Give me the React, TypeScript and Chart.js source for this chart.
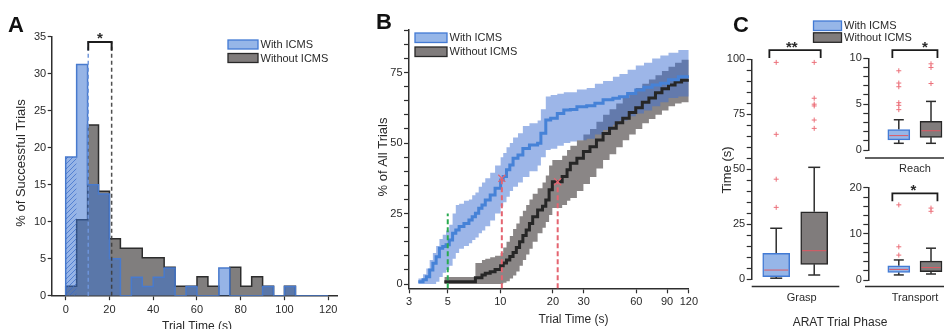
import React, { useEffect, useRef } from 'react';
import { Chart, registerables } from 'chart.js';

Chart.register(...registerables);

const FONT = '"Liberation Sans", Arial, Helvetica, sans-serif';
const AXIS = '#2e2e2e';
const TEXT = '#2a2a2a';
const RED = 'rgb(236,112,122)';
const BLUE_FILL = 'rgb(150,182,232)';
const BLUE_EDGE = 'rgb(66,122,212)';
const GRAY_FILL = 'rgb(128,124,124)';
const GRAY_EDGE = 'rgb(40,40,40)';

const legendLabels = ['With ICMS', 'Without ICMS'];

// ---------- Panel A : histogram ----------
const binStarts = [0, 5, 10, 15, 20, 25, 30, 35, 40, 45, 50, 55, 60, 65, 70, 75, 80, 85, 90, 95, 100, 105, 110, 115];
const withICMSHist = [18.75, 31.25, 15, 13.75, 5, 0, 2.5, 1.25, 2.5, 3.75, 0, 1.25, 0, 0, 3.75, 0, 0, 0, 1.25, 0, 1.25, 0, 0, 0];
const withoutICMSHist = [1.28, 10.26, 23.08, 14.1, 7.69, 6.41, 6.41, 5.13, 5.13, 3.85, 1.28, 1.28, 2.56, 1.28, 0, 3.85, 1.28, 2.56, 1.28, 0, 1.28, 0, 0, 0];
const histXTicks = [0, 20, 40, 60, 80, 100, 120];
const histYTicks = [0, 5, 10, 15, 20, 25, 30, 35];
const histMedians = [10.3, 21];
const histSigLevel = 34.3;

// ---------- Panel B : cumulative curves ----------
const blueTimes = [3.39, 3.61, 3.77, 3.94, 4.11, 4.29, 4.48, 4.68, 4.89, 5.1, 5.33, 5.56, 5.81, 6.19, 6.61, 6.9, 7.2, 7.52, 7.85, 8.2, 8.75, 9.33, 10.04, 10.39, 10.85, 11.33, 11.83, 12.62, 13.46, 14.68, 16.35, 17.07, 18.21, 19.42, 21.19, 23.09, 25.17, 27.44, 31.23, 34.78, 38.75, 44.1, 48.07, 53.56, 59.64, 66.44, 74, 82.4, 91.8, 104.5, 120];
const blueMid = [0.8, 1.5, 2.6, 5, 7.4, 9.7, 12.7, 13.3, 13.9, 15.6, 18, 19.2, 20.4, 21.5, 22.7, 23.9, 25.1, 26.9, 28, 29.8, 31.6, 34, 36.9, 38.1, 40.5, 42.2, 44.6, 45.8, 48.1, 49.3, 49.9, 53.5, 58.2, 58.8, 60.5, 61.7, 61.9, 62.9, 63.2, 64.1, 65.3, 65.9, 66.4, 67.6, 68.8, 69.8, 70.6, 71.2, 72.4, 73.5, 74];
const blueUpper = [2, 3.5, 5.5, 8.5, 11, 13.5, 16, 17.5, 19, 21, 25, 28, 28.5, 29.5, 30, 31.5, 32.5, 34.5, 36, 37.5, 39.5, 42, 45, 46.5, 48.5, 50, 52, 53.5, 56, 57, 58, 62, 66.5, 67, 67.5, 68, 68, 69, 69.5, 71, 72, 73.5, 74.5, 76, 77.5, 78.5, 80, 81, 82, 83, 83.5];
const blueLower = [0, 0, 0, 0, 0, 0.8, 2.5, 4, 5, 6.5, 9, 11, 12.5, 13.5, 14.5, 15.6, 16.5, 18, 19, 20.5, 22.5, 25, 27.5, 29, 31, 33, 34.5, 36, 38, 40, 42, 45, 47.5, 48, 49, 50, 50.5, 51, 51.5, 53, 54.6, 56.5, 58, 59.5, 60.5, 61.5, 63, 64.5, 66, 66.5, 67];

const grayTimes = [4.78, 7.2, 7.85, 8.2, 8.75, 9.33, 10.04, 10.39, 10.85, 11.33, 11.83, 12.35, 12.89, 13.46, 14.06, 14.68, 15.32, 16.35, 17.44, 18.21, 19.02, 19.85, 22.6, 24.1, 25.17, 27.44, 29.9, 32.6, 35.5, 38.75, 42.2, 46.1, 50.2, 54.7, 59.6, 65, 70.9, 77.3, 84.2, 91.8, 100.1, 109.1, 120];
const grayMid = [0.8, 2.2, 3.2, 3.8, 4.4, 5.2, 6.5, 7.5, 8.5, 9.8, 11.2, 13, 15, 17.2, 19.2, 21.5, 23.9, 26.3, 27.6, 29.8, 33.4, 36.3, 38.1, 40.5, 42.8, 44.6, 47, 48.7, 51.1, 53.4, 55.2, 57.2, 58.8, 60.8, 62.5, 64.5, 66, 67.8, 69.2, 70.6, 71.6, 72.3, 72.6];
const grayUpper = [2.5, 7.5, 8.5, 9, 9.5, 10, 11, 13, 15, 17, 19.5, 21.5, 24, 26, 28, 30, 32, 34, 36, 38.5, 42, 44, 45.5, 47.5, 49, 51, 53, 55, 57.5, 60, 62, 64, 66, 67.5, 69.5, 71, 72.5, 74, 75.5, 77, 78.5, 79.5, 80.5];
const grayLower = [0, 0, 0, 0, 0, 0, 0, 0.5, 1, 2, 3, 4.5, 6.5, 8.5, 10.5, 12.5, 15, 18, 20, 22, 24.5, 27, 28, 29.5, 30.5, 33, 35.5, 38, 41, 44, 46, 48.5, 51, 53, 55, 57, 58.5, 60, 61.5, 63, 64, 64.5, 65];

const cumXTicks = [3, 5, 10, 20, 30, 60, 90, 120];
const cumYTicks = [0, 5, 10, 15, 20, 25, 30, 35, 40, 45, 50, 55, 60, 65, 70, 75, 80, 85, 90];
const greenLineX = [5];
const greenLineTop = [25];
const redLineX = [10.2, 21.3];
const redLineTop = [37.5, 36.3];

// ---------- Panel C : box plots [min, q1, median, q3, max] ----------
const boxPositions = [1, 2];
const graspStats = [[0.5, 1.2, 4.2, 11.8, 23.2], [1.95, 6.8, 13, 30.7, 50.9]];
const graspOutliers = [[32.7, 45.5, 65.9, 98.6], [68.6, 72.4, 78.8, 79.6, 82.3, 98.6]];
const reachStats = [[0.73, 1.1, 1.57, 2.23, 3.3], [0.73, 1.38, 2.1, 3.14, 5.3]];
const reachOutliers = [[4.4, 4.87, 5.16, 6.9, 7.3, 8.64], [7.25, 9.0, 9.4]];
const transportStats = [[1.1, 1.67, 2.3, 3.1, 4.35], [1.3, 1.8, 2.7, 4.1, 6.9]];
const transportOutliers = [[5.4, 7.2, 16.3], [14.9, 15.6]];
const graspYTicks = [0, 5, 10, 15, 20, 25, 30, 35, 40, 45, 50, 55, 60, 65, 70, 75, 80, 85, 90, 95, 100];
const reachYTicks = [0, 1, 2, 3, 4, 5, 6, 7, 8, 9, 10];
const transportYTicks = [0, 2, 4, 6, 8, 10, 12, 14, 16, 18, 20];
const graspSig = { x1: 0.82, x2: 2.17, level: 104.2, starX: 1.41, label: '**' };
const reachSig = { x1: 0.8, x2: 2.2, level: 10.9, starX: 1.81, label: '*' };
const transportSig = { x1: 0.8, x2: 2.2, level: 18.8, starX: 1.45, label: '*' };

// ---------- helpers ----------
function drawText(ctx: CanvasRenderingContext2D, s: string, x: number, y: number, size: number, o: any = {}) {
  ctx.save();
  ctx.font = `${o.bold ? 'bold ' : ''}${size}px ${FONT}`;
  ctx.fillStyle = o.color || TEXT;
  ctx.textAlign = o.align || 'center';
  ctx.textBaseline = o.baseline || 'middle';
  ctx.translate(x, y);
  if (o.rot) ctx.rotate(o.rot);
  ctx.fillText(s, 0, 0);
  ctx.restore();
}

function seg(ctx: CanvasRenderingContext2D, x1: number, y1: number, x2: number, y2: number) {
  ctx.beginPath();
  ctx.moveTo(x1, y1);
  ctx.lineTo(x2, y2);
  ctx.stroke();
}

function drawLegend(ctx: CanvasRenderingContext2D, x: number, y: number, w: number, h: number, gap: number) {
  const fills = [BLUE_FILL, GRAY_FILL];
  const edges = [BLUE_EDGE, GRAY_EDGE];
  legendLabels.forEach((lab, i) => {
    const yy = y + i * gap;
    ctx.save();
    ctx.fillStyle = fills[i];
    ctx.fillRect(x, yy, w, h);
    ctx.strokeStyle = edges[i];
    ctx.lineWidth = 1.3;
    ctx.strokeRect(x, yy, w, h);
    ctx.restore();
    drawText(ctx, lab, x + w + 2.5, yy + h / 2 + 0.5, 11, { align: 'left' });
  });
}

function histPts(starts: number[], vals: number[]) {
  const w = starts[1] - starts[0];
  return [{ x: starts[0], y: 0 }, ...starts.map((s, i) => ({ x: s, y: vals[i] })), { x: starts[starts.length - 1] + w, y: 0 }];
}
const pts = (xs: number[], ys: number[]) => xs.map((x, i) => ({ x, y: ys[i] }));

function tickAxis(ticks: number[], size: number, horizontal: boolean, label: (v: number) => string, tickLen: number, pad: number) {
  return {
    z: 1,
    afterBuildTicks: (s: any) => { s.ticks = ticks.map((v) => ({ value: v })); },
    afterFit: (s: any) => { if (horizontal) s.height = size; else s.width = size; },
    grid: { drawOnChartArea: false, drawTicks: true, tickLength: tickLen, tickColor: AXIS, tickWidth: 1.2, color: AXIS },
    border: { display: true, color: AXIS, width: 1.5 },
    ticks: { autoSkip: false, maxRotation: 0, padding: pad, color: TEXT, font: { family: FONT, size: 11 }, callback: (v: any) => label(Number(v)) },
  };
}

const baseOptions = (padding: any) => ({
  responsive: false,
  animation: false,
  events: [],
  layout: { autoPadding: false, padding },
  plugins: { legend: { display: false }, tooltip: { enabled: false }, title: { display: false } },
});

function makeHatch() {
  const c = document.createElement('canvas');
  c.width = 5; c.height = 5;
  const g = c.getContext('2d')!;
  g.strokeStyle = 'rgba(55,105,200,0.7)';
  g.lineWidth = 1;
  g.beginPath();
  g.moveTo(0, 5); g.lineTo(5, 0);
  g.moveTo(-2.5, 2.5); g.lineTo(2.5, -2.5);
  g.moveTo(2.5, 7.5); g.lineTo(7.5, 2.5);
  g.stroke();
  return g.createPattern(c, 'repeat');
}

// ---------- Panel A ----------
function buildA(): any {
  const ox = 0, oy = 0;
  const plugin = {
    id: 'panelA',
    afterDatasetsDraw(chart: any) {
      const { ctx } = chart;
      const x = chart.scales.x, y = chart.scales.y;
      const yb = y.getPixelForValue(0), yt = y.getPixelForValue(histSigLevel);
      const xm1 = x.getPixelForValue(histMedians[0]), xm2 = x.getPixelForValue(histMedians[1]);
      ctx.save();
      ctx.setLineDash([4, 3]);
      ctx.lineWidth = 1.5;
      ctx.strokeStyle = 'rgba(110,150,220,0.95)';
      seg(ctx, xm1, yb, xm1, yt);
      ctx.strokeStyle = 'rgba(60,60,60,0.9)';
      seg(ctx, xm2, yb, xm2, yt);
      ctx.setLineDash([]);
      ctx.strokeStyle = '#1c1c1c';
      ctx.lineWidth = 2;
      ctx.beginPath();
      ctx.moveTo(xm1, yt + 8.5); ctx.lineTo(xm1, yt); ctx.lineTo(xm2, yt); ctx.lineTo(xm2, yt + 8.5);
      ctx.stroke();
      ctx.restore();
      drawText(ctx, '*', (xm1 + xm2) / 2, yt + 1.5, 15, { bold: true, baseline: 'alphabetic' });
    },
    afterDraw(chart: any) {
      const { ctx } = chart;
      drawText(ctx, 'A', 8 - ox, 32 - oy, 22, { bold: true, align: 'left', baseline: 'alphabetic', color: '#111' });
      drawLegend(ctx, 228 - ox, 40 - oy, 30, 9, 13.5);
      drawText(ctx, '% of Successful Trials', 21 - ox, 163 - oy, 13, { rot: -Math.PI / 2 });
      drawText(ctx, 'Trial Time (s)', 197 - ox, 330 - oy, 12, { baseline: 'alphabetic' });
    },
  };
  const hatch = makeHatch();
  return {
    type: 'line',
    data: {
      datasets: [
        { data: [{ x: binStarts[0], y: 0 }, { x: binStarts[0], y: withICMSHist[0] }, { x: binStarts[1], y: 0 }], stepped: true, fill: 'origin', backgroundColor: hatch, borderColor: 'rgba(0,0,0,0)', pointRadius: 0, order: 1 },
        { data: histPts(binStarts, withICMSHist), stepped: true, fill: 'origin', backgroundColor: 'rgba(57,113,208,0.53)', borderColor: 'rgb(72,122,205)', borderWidth: 1.5, pointRadius: 0, order: 2 },
        { data: histPts(binStarts, withoutICMSHist), stepped: true, fill: 'origin', backgroundColor: 'rgb(128,126,126)', borderColor: 'rgb(45,45,45)', borderWidth: 1.5, pointRadius: 0, order: 3 },
      ],
    },
    options: {
      ...baseOptions({ left: 0, right: 8, top: 36.7, bottom: 0 }),
      scales: {
        x: { type: 'linear', min: -6.4, max: 124, ...tickAxis(histXTicks, 33.3, true, (v) => String(v), 4.5, 3) },
        y: { type: 'linear', min: 0, max: 35, ...tickAxis(histYTicks, 51.7, false, (v) => String(v), 4, 1.5) },
      },
    },
    plugins: [plugin],
  };
}

// ---------- Panel B ----------
function buildB(): any {
  const ox = 345, oy = 0;
  const plugin = {
    id: 'panelB',
    afterDatasetsDraw(chart: any) {
      const { ctx } = chart;
      const x = chart.scales.x, y = chart.scales.y;
      const yb = chart.chartArea.bottom;
      ctx.save();
      ctx.setLineDash([5, 3]);
      ctx.lineWidth = 2;
      ctx.strokeStyle = 'rgb(40,170,80)';
      greenLineX.forEach((v, i) => seg(ctx, x.getPixelForValue(v), yb, x.getPixelForValue(v), y.getPixelForValue(greenLineTop[i])));
      ctx.strokeStyle = 'rgb(228,100,112)';
      redLineX.forEach((v, i) => seg(ctx, x.getPixelForValue(v), yb, x.getPixelForValue(v), y.getPixelForValue(redLineTop[i])));
      ctx.restore();
    },
    afterDraw(chart: any) {
      const { ctx } = chart;
      drawText(ctx, 'B', 376 - ox, 29 - oy, 22, { bold: true, align: 'left', baseline: 'alphabetic', color: '#111' });
      drawLegend(ctx, 415 - ox, 33 - oy, 32, 9.5, 14);
      drawText(ctx, '% of All Trials', 383.5 - ox, 157 - oy, 13, { rot: -Math.PI / 2 });
      drawText(ctx, 'Trial Time (s)', 573.5 - ox, 320 - oy, 12);
    },
  };
  const clear = 'rgba(0,0,0,0)';
  return {
    type: 'line',
    data: {
      datasets: [
        { data: pts(blueTimes, blueUpper), stepped: true, fill: '+1', backgroundColor: 'rgba(60,110,210,0.5)', borderColor: clear, pointRadius: 0, order: 5 },
        { data: pts(blueTimes, blueLower), stepped: true, fill: false, borderColor: clear, pointRadius: 0, order: 6 },
        { data: pts(grayTimes, grayUpper), stepped: true, fill: '+1', backgroundColor: 'rgb(138,134,134)', borderColor: clear, pointRadius: 0, order: 7 },
        { data: pts(grayTimes, grayLower), stepped: true, fill: false, borderColor: clear, pointRadius: 0, order: 8 },
        { data: pts(blueTimes, blueMid), stepped: true, fill: false, borderColor: 'rgb(70,130,215)', borderWidth: 3, pointRadius: 0, order: 1 },
        { data: pts(grayTimes, grayMid), stepped: true, fill: false, borderColor: 'rgb(38,38,38)', borderWidth: 3, pointRadius: 0, order: 2 },
        { data: pts(redLineX, redLineTop), showLine: false, pointStyle: 'crossRot', pointRadius: 5, pointBorderColor: 'rgb(228,100,112)', pointBorderWidth: 1.2, order: 0 },
      ],
    },
    options: {
      ...baseOptions({ left: 0, right: 6, top: 30.2, bottom: 0 }),
      scales: {
        x: { type: 'logarithmic', min: 3, max: 120, ...tickAxis(cumXTicks, 40.7, true, (v) => String(v), 5, 2) },
        y: { type: 'linear', min: -1.5, max: 90, ...tickAxis(cumYTicks, 64, false, (v) => (v % 25 === 0 ? String(v) : ''), 5, 1.5) },
      },
    },
    plugins: [plugin],
  };
}

// ---------- Panel C ----------
function boxConfig(stats: number[][], outliers: number[][], yMin: number, yMax: number, yTicks: number[], labelStep: number,
  xMin: number, xMax: number, yWidth: number, padding: any, boxW: number, capW: number, sig: any, ox: number, oy: number,
  baselineY: number, baselineX0: number, phase: string, phaseX: number, phaseY: number, extra?: (ctx: CanvasRenderingContext2D) => void): any {
  const plugin = {
    id: 'box' + phase,
    beforeDatasetsDraw(chart: any) {
      const { ctx } = chart;
      const x = chart.scales.x, y = chart.scales.y;
      ctx.save();
      ctx.strokeStyle = 'rgb(45,45,45)';
      ctx.lineWidth = 1.5;
      stats.forEach((s, i) => {
        const px = x.getPixelForValue(boxPositions[i]);
        seg(ctx, px, y.getPixelForValue(s[0]), px, y.getPixelForValue(s[1]));
        seg(ctx, px, y.getPixelForValue(s[3]), px, y.getPixelForValue(s[4]));
        seg(ctx, px - capW / 2, y.getPixelForValue(s[0]), px + capW / 2, y.getPixelForValue(s[0]));
        seg(ctx, px - capW / 2, y.getPixelForValue(s[4]), px + capW / 2, y.getPixelForValue(s[4]));
      });
      ctx.restore();
    },
    afterDatasetsDraw(chart: any) {
      const { ctx } = chart;
      const x = chart.scales.x, y = chart.scales.y;
      ctx.save();
      ctx.strokeStyle = 'rgb(222,88,98)';
      ctx.lineWidth = 1;
      stats.forEach((s, i) => {
        const px = x.getPixelForValue(boxPositions[i]);
        seg(ctx, px - boxW / 2 + 1.5, y.getPixelForValue(s[2]), px + boxW / 2 - 1.5, y.getPixelForValue(s[2]));
      });
      ctx.restore();
    },
    afterDraw(chart: any) {
      const { ctx } = chart;
      const x = chart.scales.x, y = chart.scales.y;
      ctx.save();
      ctx.strokeStyle = AXIS;
      ctx.lineWidth = 1.5;
      seg(ctx, baselineX0 - ox, baselineY - oy, chart.chartArea.right, baselineY - oy);
      const x1 = x.getPixelForValue(sig.x1), x2 = x.getPixelForValue(sig.x2), yl = y.getPixelForValue(sig.level);
      ctx.strokeStyle = '#1c1c1c';
      ctx.lineWidth = 1.8;
      ctx.beginPath();
      ctx.moveTo(x1, yl + 8); ctx.lineTo(x1, yl); ctx.lineTo(x2, yl); ctx.lineTo(x2, yl + 8);
      ctx.stroke();
      ctx.restore();
      drawText(ctx, sig.label, x.getPixelForValue(sig.starX), yl + 2, 15, { bold: true, baseline: 'alphabetic' });
      drawText(ctx, phase, phaseX - ox, phaseY - oy, 11);
      if (extra) extra(ctx);
    },
  };
  const outPts: any[] = [];
  outliers.forEach((arr, i) => arr.forEach((v) => outPts.push({ x: boxPositions[i], y: v })));
  return {
    type: 'bar',
    data: {
      datasets: [
        { type: 'scatter', data: outPts, pointStyle: 'cross', pointRadius: 2.5, borderColor: RED, backgroundColor: RED, borderWidth: 1, order: 0 },
        {
          type: 'bar', data: stats.map((s, i) => ({ x: boxPositions[i], y: [s[1], s[3]] })),
          backgroundColor: [BLUE_FILL, GRAY_FILL], borderColor: [BLUE_EDGE, GRAY_EDGE], borderWidth: 1.5, borderSkipped: false,
          barThickness: boxW, order: 1,
        },
      ],
    },
    options: {
      ...baseOptions(padding),
      scales: {
        x: { type: 'linear', min: xMin, max: xMax, display: false, offset: false, grid: { offset: false } },
        y: { type: 'linear', min: yMin, max: yMax, ...tickAxis(yTicks, yWidth, false, (v) => (v % labelStep === 0 ? String(v) : ''), 5, 1.5) },
      },
    },
    plugins: [plugin],
  };
}

function buildGrasp(): any {
  const ox = 700, oy = 0;
  return boxConfig(graspStats, graspOutliers, 0, 100, graspYTicks, 25, 0.355, 2.66, 51.7,
    { left: 0, right: 104.7, top: 59.3, bottom: 49.7 }, 27, 12, graspSig, ox, oy, 286.5, 751.7, 'Grasp', 801.7, 298,
    (ctx) => {
      drawText(ctx, 'C', 733 - ox, 31.5 - oy, 22, { bold: true, align: 'left', baseline: 'alphabetic', color: '#111' });
      drawLegend(ctx, 813.5 - ox, 21 - oy, 28, 9.5, 11.8);
      drawText(ctx, 'Time (s)', 727 - ox, 170 - oy, 13, { rot: -Math.PI / 2 });
      drawText(ctx, 'ARAT Trial Phase', 840 - ox, 322.7 - oy, 12);
    });
}

function buildReach(): any {
  const ox = 845, oy = 0;
  return boxConfig(reachStats, reachOutliers, 0, 10, reachYTicks, 5, 0.053, 2.9, 23.3,
    { left: 0, right: 5, top: 58.3, bottom: 25 }, 22, 10, reachSig, ox, oy, 158, 865, 'Reach', 915, 169);
}

function buildTransport(): any {
  const ox = 845, oy = 175;
  return boxConfig(transportStats, transportOutliers, 0, 20, transportYTicks, 10, 0.053, 2.9, 23.3,
    { left: 0, right: 5, top: 12.8, bottom: 49 }, 22, 10, transportSig, ox, oy, 286.5, 865, 'Transport', 915, 298);
}

function ChartCanvas({ left, top, width, height, build }: { left: number; top: number; width: number; height: number; build: () => any }) {
  const ref = useRef<HTMLCanvasElement>(null);
  useEffect(() => {
    const chart = new Chart(ref.current as HTMLCanvasElement, build());
    return () => chart.destroy();
  }, []);
  return <canvas ref={ref} width={width} height={height} style={{ position: 'absolute', left, top, width, height }} />;
}

export default function App() {
  return (
    <div style={{ position: 'absolute', left: 0, top: 0, width: 944, height: 329, overflow: 'hidden', background: '#fff' }}>
      <ChartCanvas left={0} top={0} width={345} height={329} build={buildA} />
      <ChartCanvas left={345} top={0} width={355} height={329} build={buildB} />
      <ChartCanvas left={700} top={0} width={244} height={329} build={buildGrasp} />
      <ChartCanvas left={845} top={0} width={120} height={175} build={buildReach} />
      <ChartCanvas left={845} top={175} width={120} height={154} build={buildTransport} />
    </div>
  );
}
